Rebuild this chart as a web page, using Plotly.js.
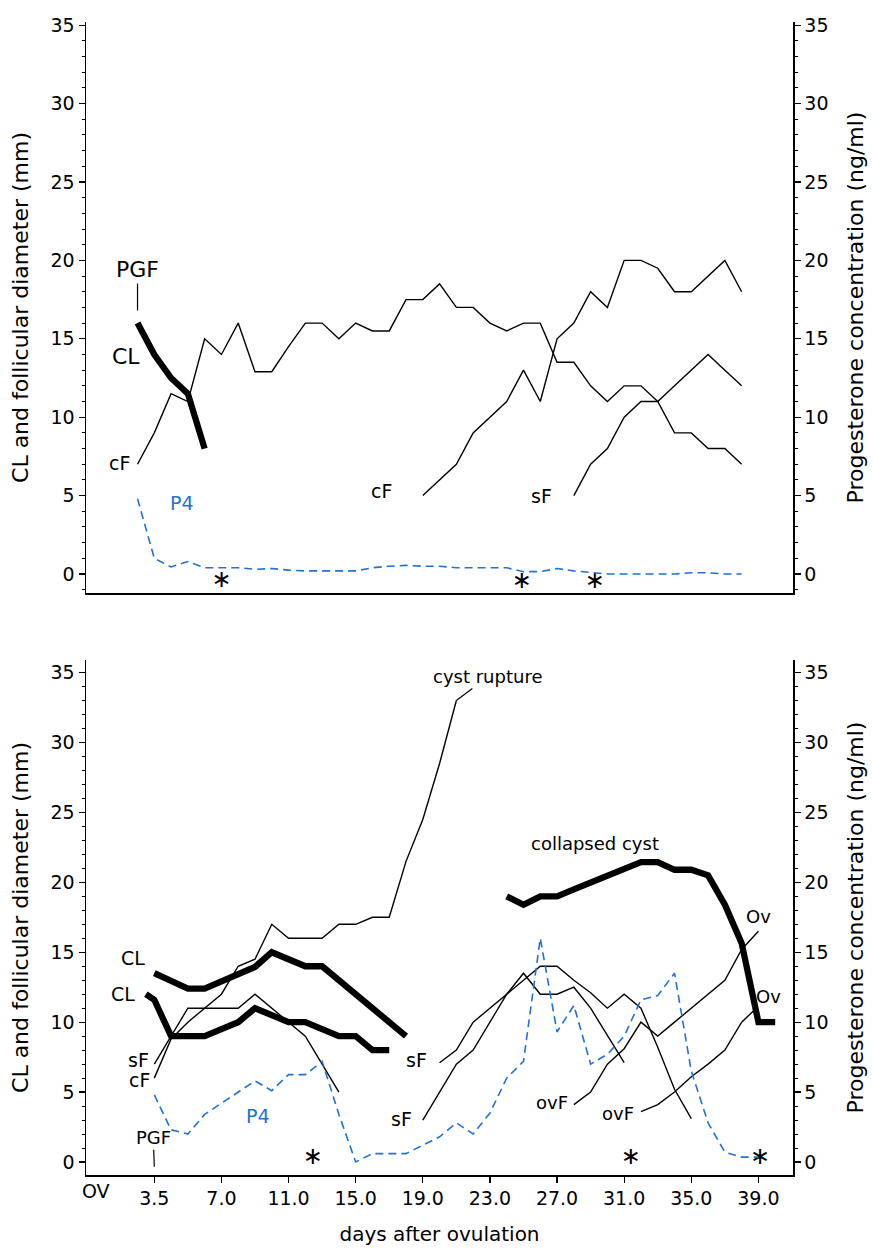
<!DOCTYPE html>
<html>
<head>
<meta charset="utf-8">
<script src="https://cdn.plot.ly/plotly-3.0.1.min.js"></script>
<style>html,body{margin:0;padding:0;background:#fff;}#chart{width:873px;height:1251px;}</style>
</head>
<body>
<div id="chart"></div>
<script>
// ---------- data: top panel (days after ovulation) ----------
const topDays = [2,3,4,5,6,7,8,9,10,11,12,13,14,15,16,17,18,19,20,21,22,23,24,25,26,27,28,29,30,31,32,33,34,35,36,37,38];
const topCF1 = [7,9,11.5,11,15,14,16,12.9,12.9,14.5,16,16,15,16,15.5,15.5,17.5,17.5,18.5,17,17,16,15.5,16,16,13.5,13.5,12,11,12,12,11,9,9,8,8,7];
const topP4 = [4.8,1.0,0.45,0.8,0.4,0.4,0.4,0.3,0.35,0.25,0.2,0.2,0.2,0.2,0.4,0.5,0.55,0.5,0.5,0.4,0.4,0.4,0.4,0.15,0.15,0.35,0.2,0.1,0,0,0,0,0,0.08,0.08,0,0];
const topCLDays = [2,3,4,5,6];
const topCL = [16,14,12.5,11.5,8];
const topCF2Days = [19,20,21,22,23,24,25,26,27,28,29,30,31,32,33,34,35,36,37,38];
const topCF2 = [5,6,7,9,10,11,13,11,15,16,18,17,20,20,19.5,18,18,19,20,18];
const topSFDays = [28,29,30,31,32,33,34,35,36,37,38];
const topSF = [5,7,8,10,11,11,12,13,14,13,12];
const topStarDays = [7,24.9,29.25];
const topStarY = [-0.45,-0.5,-0.5];

// ---------- data: bottom panel ----------
const botCLaDays = [3,4,5,6,7,8,9,10,11,12,13,14,15,16,17,18];
const botCLa = [13.5,12.95,12.4,12.4,12.9,13.4,13.95,15.0,14.5,14.0,14.0,13.0,12.0,11.0,10.0,9.0];
const botCLbDays = [2.5,3,4,5,6,7,8,9,10,11,12,13,14,15,16,17];
const botCLb = [12.0,11.6,9.0,9.0,9.0,9.5,10.0,11.0,10.5,10.0,10.0,9.5,9.0,9.0,8.0,8.0];
const botCFDays = [3,4,5,6,7,8,9,10,11,12,13,14,15,16,17,18,19,20,21];
const botCF = [6.0,8.8,10.0,11.0,12.0,14.0,14.5,17.0,16.0,16.0,16.0,17.0,17.0,17.5,17.5,21.5,24.5,28.5,33.0];
const botSFDays = [3,4,5,6,7,8,9,10,11,12,13,14];
const botSF = [7.0,9.0,11.0,11.0,11.0,11.0,12.0,11.0,10.0,9.0,7.0,5.0];
const botP4Days = [3,4,5,6,7,8,9,10,11,12,13,14,15,16,17,18,19,20,21,22,23,24,25,26,27,28,29,30,31,32,33,34,35,36,37,38,39];
const botP4 = [4.8,2.3,2.0,3.4,4.2,5.0,5.8,5.1,6.25,6.25,7.2,3.4,0.0,0.6,0.6,0.6,1.2,1.8,2.8,2.0,3.5,6.0,7.2,16.0,9.3,11.2,7.0,7.7,9.0,11.6,11.9,13.5,6.5,2.8,0.7,0.35,0.35];
const botSF2aDays = [20,21,22,23,24,25,26,27,28,29,30,31];
const botSF2a = [7.1,8.0,10.0,11.0,12.0,13.5,12.0,12.0,12.5,11.0,9.0,7.1];
const botSF2bDays = [19,20,21,22,23,24,25,26,27,28,29,30,31,32,33,34,35];
const botSF2b = [3.0,5.0,7.0,8.0,10.0,12.0,13.0,14.0,14.0,13.0,12.1,11.0,12.0,11.0,8.2,5.2,3.1];
const botOvF1Days = [28,29,30,31,32,33,34,35,36,37,38,39];
const botOvF1 = [4.1,5.0,7.0,8.1,10.0,9.0,10.0,11.0,12.0,13.0,15.2,16.5];
const botOvF2Days = [32,33,34,35,36,37,38,38.7];
const botOvF2 = [3.6,4.1,5.0,6.1,7.0,8.0,10.0,10.8];
const botCystDays = [24,25,26,27,28,29,30,31,32,33,34,35,36,37,38,39,40];
const botCyst = [19.0,18.4,19.0,19.0,19.5,20.0,20.5,20.9,21.45,21.45,20.9,20.9,20.5,18.4,15.65,10.0,10.0];
const botStarDays = [12.45,31.4,39.1];
const botStarY = [0.3,0.3,0.3];

// ---------- tick labels ----------
const xTickVals = [3,7,11,15,19,23,27,31,35,39];
const xTickText = ['3.5','7.0','11.0','15.0','19.0','23.0','27.0','31.0','35.0','39.0'];
const yTickVals = [0,5,10,15,20,25,30,35];

const BLUE = '#1f72d6';
const FONT = 'DejaVu Sans, Verdana, sans-serif';
const TICKSIZE = 19;

function thin(x, y, xa, ya) {
  return {x: x, y: y, xaxis: xa, yaxis: ya, mode: 'lines', line: {color: '#000', width: 1.4}, hoverinfo: 'skip'};
}
function thick(x, y, xa, ya) {
  return {x: x, y: y, xaxis: xa, yaxis: ya, mode: 'lines', line: {color: '#000', width: 6.3}, hoverinfo: 'skip'};
}
function p4(x, y, xa, ya) {
  return {x: x, y: y, xaxis: xa, yaxis: ya, mode: 'lines', line: {color: BLUE, width: 1.6, dash: '8px,5px'}, hoverinfo: 'skip'};
}
function stars(x, y, xa, ya) {
  return {x: x, y: y, xaxis: xa, yaxis: ya, mode: 'text', text: x.map(() => '\u2217'),
          textposition: 'middle center', textfont: {family: FONT, size: 24, color: '#000'},
          cliponaxis: false, hoverinfo: 'skip'};
}

const data = [
  thin(topDays, topCF1, 'x', 'y'),
  thin(topCF2Days, topCF2, 'x', 'y'),
  thin(topSFDays, topSF, 'x', 'y'),
  thick(topCLDays, topCL, 'x', 'y'),
  p4(topDays, topP4, 'x', 'y2'),
  stars(topStarDays, topStarY, 'x', 'y'),

  thin(botCFDays, botCF, 'x2', 'y3'),
  thin(botSFDays, botSF, 'x2', 'y3'),
  thin(botSF2aDays, botSF2a, 'x2', 'y3'),
  thin(botSF2bDays, botSF2b, 'x2', 'y3'),
  thin(botOvF1Days, botOvF1, 'x2', 'y3'),
  thin(botOvF2Days, botOvF2, 'x2', 'y3'),
  thick(botCLaDays, botCLa, 'x2', 'y3'),
  thick(botCLbDays, botCLb, 'x2', 'y3'),
  thick(botCystDays, botCyst, 'x2', 'y3'),
  p4(botP4Days, botP4, 'x2', 'y4'),
  stars(botStarDays, botStarY, 'x2', 'y3')
];

const yBase = {
  showline: true, linecolor: '#000', linewidth: 1.5,
  ticks: 'outside', ticklen: 6, tickwidth: 1.2, tickcolor: '#000',
  tickvals: yTickVals,
  minor: {tickmode: 'linear', tick0: 0, dtick: 1, ticks: 'outside', ticklen: 3, tickwidth: 1, tickcolor: '#000', showgrid: false},
  showgrid: false, zeroline: false,
  tickfont: {family: FONT, size: TICKSIZE, color: '#000'}
};

const topRange = [-1.21, 35.2];
const botRange = [-0.93, 35.9];
const xRange = [-1.07, 41.06];

function lab(text, x, y, xr, yr, size, extra) {
  return Object.assign({text: text, x: x, y: y, xref: xr, yref: yr, showarrow: false,
    xanchor: 'center', yanchor: 'middle', font: {family: FONT, size: size, color: '#000'}}, extra || {});
}
const ARROW = {showarrow: true, arrowhead: 0, arrowwidth: 1.2, arrowcolor: '#000'};

const annotations = [
  // top panel
  lab('PGF', 2.0, 16.8, 'x', 'y', 22, Object.assign({ax: 0, ay: -41}, ARROW)),
  lab('CL', 1.31, 13.87, 'x', 'y', 22),
  lab('cF', 0.91, 7.07, 'x', 'y', 19),
  lab('P4', 4.65, 4.52, 'x', 'y', 19, {font: {family: FONT, size: 19, color: BLUE}}),
  lab('cF', 16.55, 5.29, 'x', 'y', 19),
  lab('sF', 26.09, 4.99, 'x', 'y', 19),
  // bottom panel
  lab('CL', 1.71, 14.6, 'x2', 'y3', 19),
  lab('CL', 1.15, 12.05, 'x2', 'y3', 19),
  lab('sF', 2.07, 7.33, 'x2', 'y3', 19),
  lab('cF', 2.1, 5.85, 'x2', 'y3', 19),
  lab('P4', 9.16, 3.32, 'x2', 'y3', 19, {font: {family: FONT, size: 19, color: BLUE}}),
  lab('PGF', 3.0, -0.34, 'x2', 'y3', 18, Object.assign({ax: -1, ay: -29}, ARROW)),
  lab('sF', 18.64, 7.3, 'x2', 'y3', 19),
  lab('sF', 17.74, 3.06, 'x2', 'y3', 19),
  lab('cyst rupture', 21.0, 33.0, 'x2', 'y3', 18, Object.assign({ax: 32, ay: -24}, ARROW)),
  lab('collapsed cyst', 29.26, 22.8, 'x2', 'y3', 18),
  lab('Ov', 39.0, 17.56, 'x2', 'y3', 18),
  lab('Ov', 39.6, 11.83, 'x2', 'y3', 18),
  lab('ovF', 26.68, 4.25, 'x2', 'y3', 18),
  lab('ovF', 30.65, 3.5, 'x2', 'y3', 18),
  lab('OV', -0.47, -0.0135, 'x2', 'paper', TICKSIZE)
];

const layout = {
  width: 873, height: 1251,
  margin: {l: 86, r: 80, t: 22, b: 76, pad: 0},
  paper_bgcolor: '#fff', plot_bgcolor: '#fff',
  showlegend: false,
  font: {family: FONT, size: 17, color: '#000'},
  xaxis: {domain: [0, 1], anchor: 'y', range: xRange, showline: true, linecolor: '#000', linewidth: 1.5,
          ticks: '', showticklabels: false, showgrid: false, zeroline: false},
  yaxis: Object.assign({}, yBase, {domain: [0.50477, 1], anchor: 'x', range: topRange, side: 'left',
          title: {text: 'CL and follicular diameter (mm)', font: {family: FONT, size: 22, color: '#000'}, standoff: 16}}),
  yaxis2: Object.assign({}, yBase, {overlaying: 'y', anchor: 'x', side: 'right', range: topRange,
          title: {text: 'Progesterone concentration (ng/ml)', font: {family: FONT, size: 22, color: '#000'}, standoff: 20}}),
  xaxis2: {domain: [0, 1], anchor: 'y3', range: xRange, showline: true, linecolor: '#000', linewidth: 1.5,
           ticks: 'outside', ticklen: 6, tickwidth: 1.2, tickcolor: '#000',
           tickvals: xTickVals, ticktext: xTickText, tickfont: {family: FONT, size: TICKSIZE, color: '#000'},
           showgrid: false, zeroline: false,
           title: {text: 'days after ovulation', font: {family: FONT, size: 20, color: '#000'}, standoff: 18}},
  yaxis3: Object.assign({}, yBase, {domain: [0, 0.44666], anchor: 'x2', range: botRange, side: 'left',
          title: {text: 'CL and follicular diameter (mm)', font: {family: FONT, size: 22, color: '#000'}, standoff: 16}}),
  yaxis4: Object.assign({}, yBase, {overlaying: 'y3', anchor: 'x2', side: 'right', range: botRange,
          title: {text: 'Progesterone concentration (ng/ml)', font: {family: FONT, size: 22, color: '#000'}, standoff: 20}}),
  annotations: annotations
};

Plotly.newPlot('chart', data, layout, {displayModeBar: false, staticPlot: true});
</script>
</body>
</html>
